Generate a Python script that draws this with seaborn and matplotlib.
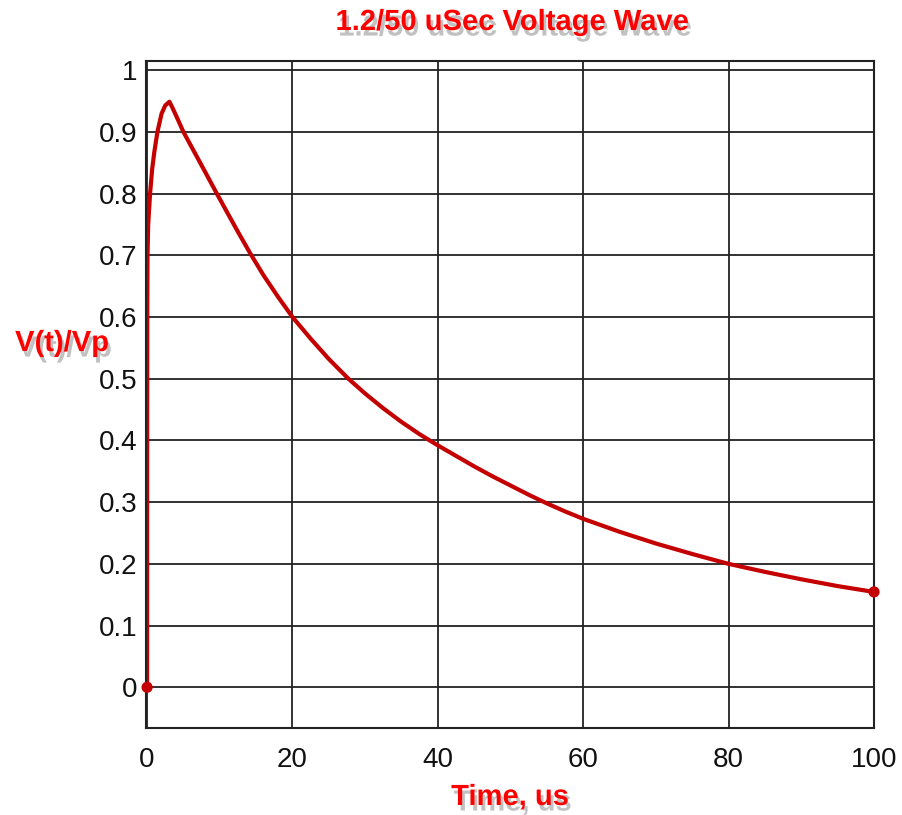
import pandas as pd
import seaborn as sns
import matplotlib
matplotlib.use("Agg")
import matplotlib.pyplot as plt
import matplotlib.patheffects as pe

# valores
time_us = [0, 0.01, 0.03, 0.06, 0.15, 0.41, 0.7, 1.0, 1.42, 2.0, 2.5,
           3.07, 3.5, 4.2, 5.0, 6.2, 7.4, 8.5, 9.6, 11.0, 12.6, 14.2, 16.0,
           18.0, 20.0, 22.5, 25.0, 27.7, 30.0, 32.5, 35.0, 37.5, 40.0, 42.5,
           45.0, 47.5, 50.0, 52.5, 55.0, 57.5, 60.0, 65.0, 70.0, 75.0, 80.0,
           85.0, 90.0, 95.0, 100.0]
v_ratio = [0, 0.45, 0.62, 0.7, 0.75, 0.8, 0.84, 0.868, 0.9, 0.93, 0.943,
           0.949, 0.939, 0.921, 0.9, 0.874, 0.848, 0.824, 0.8, 0.77, 0.736, 0.703, 0.668,
           0.633, 0.6, 0.565, 0.532, 0.5, 0.476, 0.452, 0.43, 0.41, 0.392, 0.375,
           0.358, 0.342, 0.327, 0.312, 0.298, 0.285, 0.273, 0.252, 0.233, 0.216, 0.2,
           0.187, 0.175, 0.164, 0.1545]
x_ticks = [0, 20, 40, 60, 80, 100]
y_ticks = [0, 0.1, 0.2, 0.3, 0.4, 0.5, 0.6, 0.7, 0.8, 0.9, 1.0]
y_tick_labels = ["0", "0.1", "0.2", "0.3", "0.4", "0.5", "0.6", "0.7", "0.8", "0.9", "1"]

df = pd.DataFrame({"t": time_us, "v": v_ratio})
ends = df.iloc[[0, -1]]

sns.set_style("white")
plt.rcParams["font.family"] = ["Liberation Sans", "DejaVu Sans"]

fig = plt.figure(figsize=(9.02, 8.15), dpi=100)
ax = fig.add_axes([146 / 902, 1 - 728 / 815, (874 - 146) / 902, (728 - 61) / 815])

sns.lineplot(data=df, x="t", y="v", color="#c40000", linewidth=3, ax=ax)
sns.scatterplot(data=ends, x="t", y="v", color="#c40000", s=65, edgecolor="none",
                zorder=5, ax=ax, clip_on=False)

ax.set_xlim(-0.15, 100)
ax.set_ylim(-0.066, 1.015)
ax.set_xticks(x_ticks)
ax.set_yticks(y_ticks)
ax.set_yticklabels(y_tick_labels)
ax.tick_params(length=0, labelsize=20, colors="#111111", pad=6)
ax.tick_params(axis="x", pad=14)
ax.grid(True, color="#222222", linewidth=1.3)
ax.set_axisbelow(True)
for s in ax.spines.values():
    s.set_color("#222222")
    s.set_linewidth(1.5)
ax.set_xlabel("")
ax.set_ylabel("")

sombra = [pe.withSimplePatchShadow(offset=(2, -4), shadow_rgbFace="#777777", alpha=0.45)]
rojo = dict(color="#ff0000", fontweight="bold", family=["Liberation Sans Narrow", "Liberation Sans"],
            path_effects=sombra)

fig.text(512 / 902, 1 - 22 / 815, "1.2/50 uSec Voltage Wave", ha="center", va="center",
         fontsize=21, **rojo)
fig.text(62 / 902, 1 - 343 / 815, "V(t)/Vp", ha="center", va="center", fontsize=21, **rojo)
fig.text(510 / 902, 1 - 797 / 815, "Time, us", ha="center", va="center", fontsize=21, **rojo)

fig.savefig("out.png", dpi=100)
